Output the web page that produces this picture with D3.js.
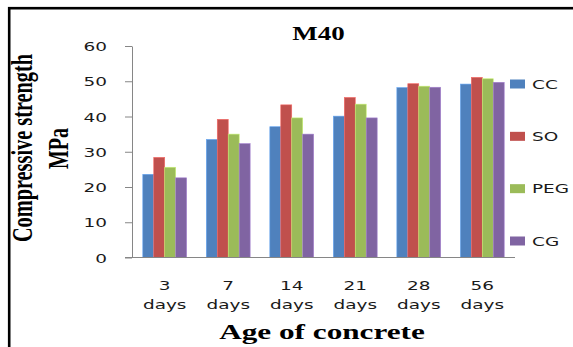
<!DOCTYPE html>
<html>
<head>
<meta charset="utf-8">
<script src="https://cdn.jsdelivr.net/npm/d3@7"></script>
<style>
  html, body { margin: 0; padding: 0; background: #fff; }
  svg { display: block; }
</style>
</head>
<body>
<svg id="chart" width="573" height="347"></svg>
<script>
// Compressive strength of M40 concrete by age and curing method
const ages = ["3", "7", "14", "21", "28", "56"];
const ageUnit = "days";
const seriesNames = ["CC", "SO", "PEG", "CG"];
const seriesColors = ["#4F81BD", "#C0504D", "#9BBB59", "#8064A2"];
const ccValues  = [23.6, 33.5, 37.1, 40.1, 48.2, 49.2];
const soValues  = [28.4, 39.2, 43.3, 45.4, 49.3, 51.1];
const pegValues = [25.6, 35.0, 39.6, 43.5, 48.6, 50.7];
const cgValues  = [22.6, 32.3, 35.0, 39.6, 48.3, 49.7];
const yTicks = [0, 10, 20, 30, 40, 50, 60];

const seriesValues = [ccValues, soValues, pegValues, cgValues];
const rows = ages.map((a, i) => ({
  age: a,
  values: seriesNames.map((s, j) => ({ name: s, value: seriesValues[j][i], color: seriesColors[j] }))
}));

const svg = d3.select("#chart");
const stretch = 1.42;           // horizontal stretch applied to all lettering
const axisColor = "#868686";
const sans = "'DejaVu Sans', Verdana, sans-serif";
const serif = "'Liberation Serif', 'Times New Roman', serif";

const plot = { left: 132, right: 515, top: 46, bottom: 257.5 };

// outer frame
svg.append("rect")
  .attr("x", 9.2).attr("y", 8.2)
  .attr("width", 640).attr("height", 400)
  .attr("fill", "none").attr("stroke", "#000").attr("stroke-width", 2.6);

const x0 = d3.scaleBand().domain(ages).range([plot.left, plot.right])
  .paddingInner(0.31).paddingOuter(0.17);
const x1 = d3.scaleBand().domain(seriesNames).range([0, x0.bandwidth()]);
const y = d3.scaleLinear().domain([0, 60]).range([plot.bottom, plot.top]);

// bars
const groups = svg.append("g").selectAll("g").data(rows).join("g")
  .attr("transform", d => `translate(${x0(d.age)},0)`);
groups.selectAll("rect").data(d => d.values).join("rect")
  .attr("x", d => x1(d.name))
  .attr("y", d => y(d.value))
  .attr("width", x1.bandwidth())
  .attr("height", d => y(0) - y(d.value))
  .attr("fill", d => d.color)
  .attr("stroke", d => d3.color(d.color).brighter(0.7))
  .attr("stroke-width", 0.6);

// y axis
const yAxis = svg.append("g")
  .attr("transform", `translate(${plot.left},0)`)
  .call(d3.axisLeft(y).tickValues(yTicks).tickSize(7).tickSizeOuter(0).tickFormat(d3.format("d")));
yAxis.select(".domain").attr("stroke", axisColor);
yAxis.selectAll(".tick line").attr("stroke", axisColor);
yAxis.selectAll(".tick text")
  .attr("x", null).attr("dy", null)
  .attr("transform", `translate(-25,4.7) scale(${stretch},1)`)
  .attr("text-anchor", "end")
  .attr("fill", "#1a1a1a")
  .style("font-family", sans).style("font-size", "13px");

// x axis line
svg.append("line")
  .attr("x1", plot.left - 7).attr("x2", plot.right)
  .attr("y1", plot.bottom).attr("y2", plot.bottom)
  .attr("stroke", axisColor).attr("stroke-width", 1.2);

// x tick labels (two lines)
const xLab = svg.append("g").selectAll("g").data(ages).join("g")
  .attr("transform", d => `translate(${x0(d) + x0.bandwidth() / 2},0)`);
xLab.append("text")
  .attr("transform", `translate(0,290) scale(${stretch},1)`)
  .attr("text-anchor", "middle").attr("fill", "#1a1a1a")
  .style("font-family", sans).style("font-size", "13px")
  .text(d => d);
xLab.append("text")
  .attr("transform", `translate(0,309) scale(${stretch},1)`)
  .attr("text-anchor", "middle").attr("fill", "#1a1a1a")
  .style("font-family", sans).style("font-size", "13px")
  .text(ageUnit);

// title
svg.append("text")
  .attr("transform", `translate(318.5,40) scale(${stretch},1)`)
  .attr("text-anchor", "middle")
  .style("font-family", serif).style("font-weight", "bold").style("font-size", "19px")
  .text("M40");

// x axis title
svg.append("text")
  .attr("transform", `translate(322,338.5) scale(${stretch},1)`)
  .attr("text-anchor", "middle")
  .style("font-family", serif).style("font-weight", "bold").style("font-size", "22px")
  .text("Age of concrete");

// y axis title (two lines)
svg.append("text")
  .attr("transform", `translate(31.5,148) scale(${stretch},1) rotate(-90)`)
  .attr("text-anchor", "middle")
  .style("font-family", serif).style("font-weight", "bold").style("font-size", "20.3px")
  .text("Compressive strength");
svg.append("text")
  .attr("transform", `translate(68,148.5) scale(${stretch},1) rotate(-90)`)
  .attr("text-anchor", "middle")
  .style("font-family", serif).style("font-weight", "bold").style("font-size", "20px")
  .text("MPa");

// legend
const legendY = d3.scalePoint().domain(seriesNames).range([84, 241]);
const legend = svg.append("g").selectAll("g").data(seriesNames).join("g")
  .attr("transform", d => `translate(510,${legendY(d)})`);
legend.append("rect")
  .attr("x", 0).attr("y", -4.5).attr("width", 15).attr("height", 9)
  .attr("fill", (d, i) => seriesColors[i]);
legend.append("text")
  .attr("transform", `translate(22,4.7) scale(${stretch},1)`)
  .attr("fill", "#1a1a1a")
  .style("font-family", sans).style("font-size", "13px")
  .text(d => d);
</script>
</body>
</html>
